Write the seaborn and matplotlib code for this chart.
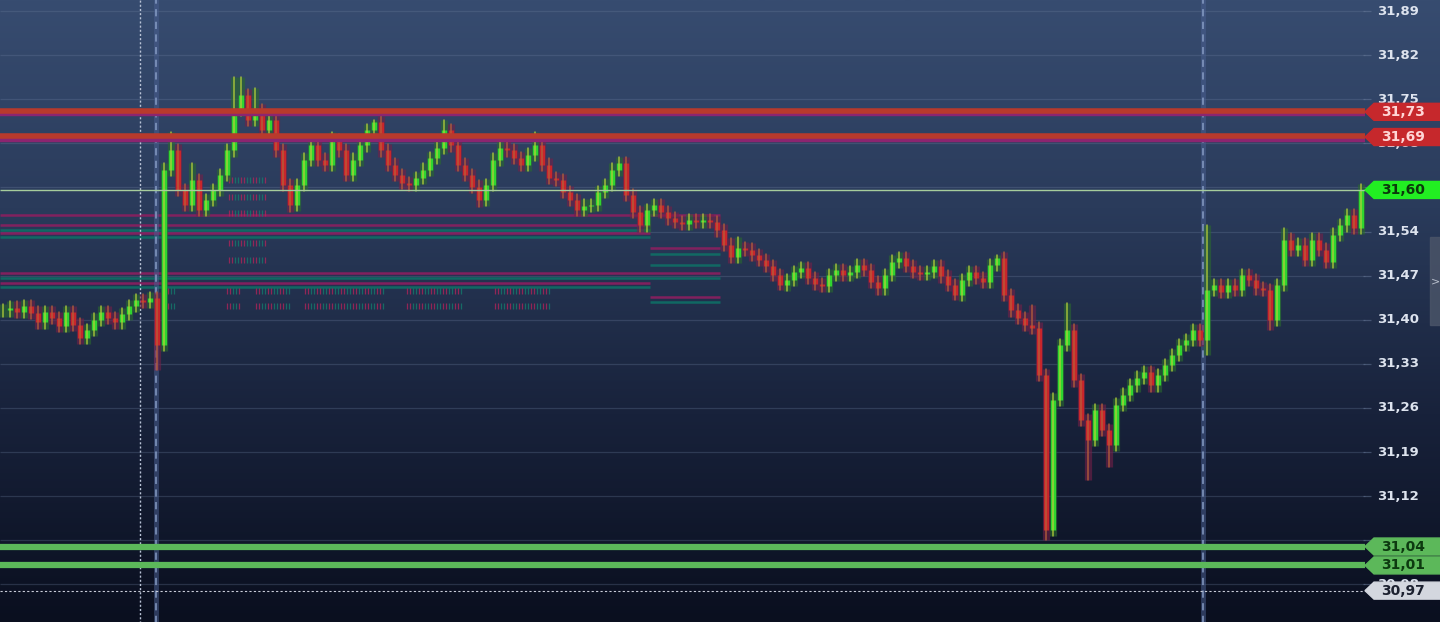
import numpy as np
import pandas as pd
import seaborn as sns
import matplotlib.pyplot as plt
from matplotlib.colors import LinearSegmentedColormap

# closing prices, one bar per entry
closes = [31.415, 31.419, 31.412, 31.422, 31.411, 31.396, 31.412, 31.403, 31.390, 31.412,
          31.392, 31.371, 31.384, 31.400, 31.412, 31.403, 31.396, 31.409, 31.422, 31.431,
          31.428, 31.434, 31.360, 31.638, 31.669, 31.606, 31.582, 31.622, 31.574, 31.590,
          31.606, 31.630, 31.669, 31.733, 31.757, 31.717, 31.733, 31.701, 31.717, 31.669,
          31.614, 31.582, 31.614, 31.654, 31.677, 31.654, 31.646, 31.685, 31.669, 31.630,
          31.654, 31.677, 31.701, 31.714, 31.669, 31.646, 31.630, 31.617, 31.614, 31.625,
          31.638, 31.657, 31.673, 31.701, 31.677, 31.646, 31.630, 31.611, 31.590, 31.614,
          31.654, 31.673, 31.669, 31.657, 31.646, 31.662, 31.677, 31.646, 31.625, 31.622,
          31.603, 31.590, 31.574, 31.581, 31.582, 31.603, 31.614, 31.638, 31.649, 31.598,
          31.571, 31.550, 31.574, 31.582, 31.571, 31.561, 31.555, 31.552, 31.558, 31.555,
          31.558, 31.555, 31.542, 31.519, 31.500, 31.514, 31.511, 31.503, 31.495, 31.485,
          31.471, 31.455, 31.463, 31.476, 31.482, 31.466, 31.457, 31.454, 31.471, 31.479,
          31.471, 31.476, 31.487, 31.479, 31.460, 31.450, 31.471, 31.492, 31.498, 31.485,
          31.476, 31.473, 31.476, 31.485, 31.469, 31.455, 31.439, 31.463, 31.476, 31.466,
          31.460, 31.487, 31.498, 31.439, 31.415, 31.403, 31.392, 31.387, 31.312, 31.066,
          31.273, 31.360, 31.384, 31.304, 31.241, 31.209, 31.257, 31.225, 31.201, 31.265,
          31.281, 31.296, 31.308, 31.317, 31.296, 31.312, 31.328, 31.344, 31.360, 31.368,
          31.384, 31.368, 31.447, 31.455, 31.444, 31.455, 31.447, 31.471, 31.463, 31.450,
          31.447, 31.400, 31.455, 31.527, 31.511, 31.519, 31.495, 31.527, 31.511, 31.492,
          31.535, 31.550, 31.566, 31.546, 31.606]

# wick extremes that stick out of the bars
high_marks = {24: 31.698, 27: 31.649, 33: 31.785, 34: 31.785, 36: 31.768, 47: 31.698,
              53: 31.717, 63: 31.717, 76: 31.698, 105: 31.531, 142: 31.503, 147: 31.423,
              152: 31.426, 172: 31.550, 183: 31.546}
low_marks = {22: 31.320, 41: 31.571, 68: 31.579, 91: 31.540, 111: 31.447, 136: 31.431,
             149: 31.050, 155: 31.146, 158: 31.166, 172: 31.344, 181: 31.384}

tick_prices = [31.89, 31.82, 31.75, 31.68, 31.54, 31.47, 31.40, 31.33,
               31.26, 31.19, 31.12, 30.98]
hidden_ticks = [31.61, 31.05]   # gridlines whose labels sit under the tags
resistance = [31.73, 31.69]
support = [31.04, 31.01]
last_price = 31.60
ref_price = 30.97

# thin magenta / teal zone lines on the left half
zone_prices = [31.566, 31.550, 31.543, 31.538, 31.531, 31.514, 31.505, 31.487,
               31.474, 31.466, 31.458, 31.452, 31.436, 31.428]
zone_kind = ['m', 'm', 't', 'm', 't', 'm', 't', 't', 'm', 't', 'm', 't', 'm', 't']
zone_span = ['long', 'short', 'short', 'short', 'short', 'tail', 'tail', 'tail',
             'long', 'long', 'short', 'short', 'tail', 'tail']

# faint volume-profile ticks (price rows)
profile_rows_low = [31.446, 31.422]
profile_rows_peak = [31.622, 31.595, 31.569, 31.522, 31.495]

# layout helpers (pixel -> bar units, 7 px per bar)
PX = 1 / 7.0
def px(p):
    return (p - 3) * PX

x_end = px(1365)
YPX = 1 / 630.0
WICK = 0.010

sns.set_theme(style="dark")
plt.rcParams['font.family'] = ['DejaVu Sans']

fig = plt.figure(figsize=(14.4, 6.22), dpi=100)

# background gradient
bg = fig.add_axes([0, 0, 1, 1])
cmap = LinearSegmentedColormap.from_list('bg', ['#0a0f1f', '#18223b', '#2a3b5b', '#374c70'])
grad = np.linspace(0, 1, 256).reshape(-1, 1)
bg.imshow(grad, aspect='auto', cmap=cmap, origin='lower', extent=[0, 1, 0, 1])
bg.axis('off')

ax = fig.add_axes([0, 0, 1, 1])
ax.set_facecolor('none')

# grid + right axis labels
for p in tick_prices + hidden_ticks:
    ax.hlines(p, px(0), x_end, color='#6a7c9c', lw=0.9, alpha=0.3, zorder=1)
    ax.hlines(p, x_end - 0.3, x_end + 0.9, color='#6a7c9c', lw=0.9, alpha=0.5, zorder=1)
for p in tick_prices:
    ax.text(px(1398), p, f"{p:.2f}".replace('.', ','), ha='center', va='center',
            color='#dde3ee', fontsize=9.5, fontweight='bold', zorder=3)

# zone lines
zcol = {'m': '#8c1f60', 't': '#0f6f66'}
zext = {'long': (px(0), px(720)), 'short': (px(0), px(650)), 'tail': (px(650), px(720))}
for p, k, s in zip(zone_prices, zone_kind, zone_span):
    x0, x1 = zext[s]
    ax.hlines(p, x0, x1, color=zcol[k], lw=1.8, alpha=0.9, zorder=1)

# volume profile ticks
def profile(rows, spans):
    for r in rows:
        for a, b in spans:
            xs = np.arange(a, b, 3)
            cols = ['#b8235a' if (k // 2) % 2 == 0 else '#13806e' for k in range(len(xs))]
            ax.vlines(px(xs), r - 3 * YPX, r + 3 * YPX, colors=cols, lw=0.9,
                      alpha=0.75, zorder=2)

profile(profile_rows_low, [(165, 176), (227, 242), (256, 290), (305, 385),
                           (407, 462), (495, 550)])
profile(profile_rows_peak, [(229, 268)])

# vertical session markers
ax.vlines(px(140), 30.9, 31.95, color='#b9c3d6', lw=1, linestyles=(0, (1.5, 1.5)), zorder=1)
for xs in [px(156), px(1203)]:
    ax.vlines(xs, 30.9, 31.95, color='#4a5f90', lw=3.5, alpha=0.55, zorder=1)
    ax.vlines(xs, 30.9, 31.95, color='#8aa0c8', lw=1.3, linestyles=(0, (4, 3)), alpha=0.8, zorder=1)

# bars
opens = [closes[0]] + closes[:-1]
body_rows, wick_rows = [], []
for i, (o, c) in enumerate(zip(opens, closes)):
    d = 'up' if c >= o else 'down'
    hi = high_marks.get(i, max(o, c) + WICK)
    lo = low_marks.get(i, min(o, c) - WICK)
    wick_rows += [(i, lo, d, i), (i, hi, d, i)]
    body_rows += [(i, o, d, i), (i, c, d, i)]
bodies = pd.DataFrame(body_rows, columns=['bar', 'price', 'dir', 'unit'])
wicks = pd.DataFrame(wick_rows, columns=['bar', 'price', 'dir', 'unit'])

# soft halo behind the bars
sns.lineplot(data=wicks, x='bar', y='price', hue='dir', units='unit', estimator=None,
             palette={'up': '#2a6a2e', 'down': '#742048'}, lw=5.2, alpha=0.6,
             legend=False, ax=ax, zorder=3, solid_capstyle='butt')
sns.lineplot(data=bodies, x='bar', y='price', hue='dir', units='unit', estimator=None,
             palette={'up': '#2fd52f', 'down': '#c8262b'}, lw=3.8, legend=False,
             ax=ax, zorder=5, solid_capstyle='butt')
sns.lineplot(data=wicks, x='bar', y='price', hue='dir', units='unit', estimator=None,
             palette={'up': '#b4cf3a', 'down': '#b8603a'}, lw=1.1, alpha=0.85,
             legend=False, ax=ax, zorder=5.5)

ax.set_xlim(px(0), px(1440))
ax.set_ylim(31.9075 - 622 * YPX, 31.9075)
ax.axis('off')

# key levels
for p in resistance:
    ax.hlines(p - 2.5 * YPX, px(0), x_end, color='#8c2570', lw=3.2, zorder=6)
    ax.hlines(p + 1 * YPX, px(0), x_end, color='#b83a2c', lw=4.0, zorder=6)
for p in support:
    ax.hlines(p, px(0), x_end, color='#5cb85a', lw=4.5, zorder=6)
ax.hlines(closes[-1], px(0), x_end, color='#a6cc9c', lw=1.0, zorder=6)
ax.hlines(ref_price, px(0), x_end, color='#c8ccd8', lw=0.8, linestyles=(0, (2, 2)), zorder=6)


def tag(p, face, txt_color, label):
    h = 8.5 * YPX
    xs = [x_end, px(1374), px(1441), px(1441), px(1374)]
    ys = [p, p + h, p + h, p - h, p - h]
    ax.fill(xs, ys, color=face, zorder=8, clip_on=False)
    ax.text(px(1403), p, label, ha='center', va='center', color=txt_color,
            fontsize=10, fontweight='bold', zorder=9)


for p in resistance:
    tag(p, '#c6282c', '#ffd6d6', f"{p:.2f}".replace('.', ','))
tag(closes[-1], '#22ee22', '#0b3a0b', f"{last_price:.2f}".replace('.', ','))
for p in support:
    tag(p, '#5cb85a', '#0d3a10', f"{p:.2f}".replace('.', ','))
tag(ref_price, '#d3d7df', '#1c2130', f"{ref_price:.2f}".replace('.', ','))

# side tab
ax.fill([px(1430), px(1441), px(1441), px(1430)],
        [31.531, 31.531, 31.391, 31.391], color='#4a5468', alpha=0.85, zorder=7)
ax.text(px(1435), 31.461, '>', ha='center', va='center', color='#b8bfcc', fontsize=8, zorder=8)

fig.savefig('out.png', dpi=100)
